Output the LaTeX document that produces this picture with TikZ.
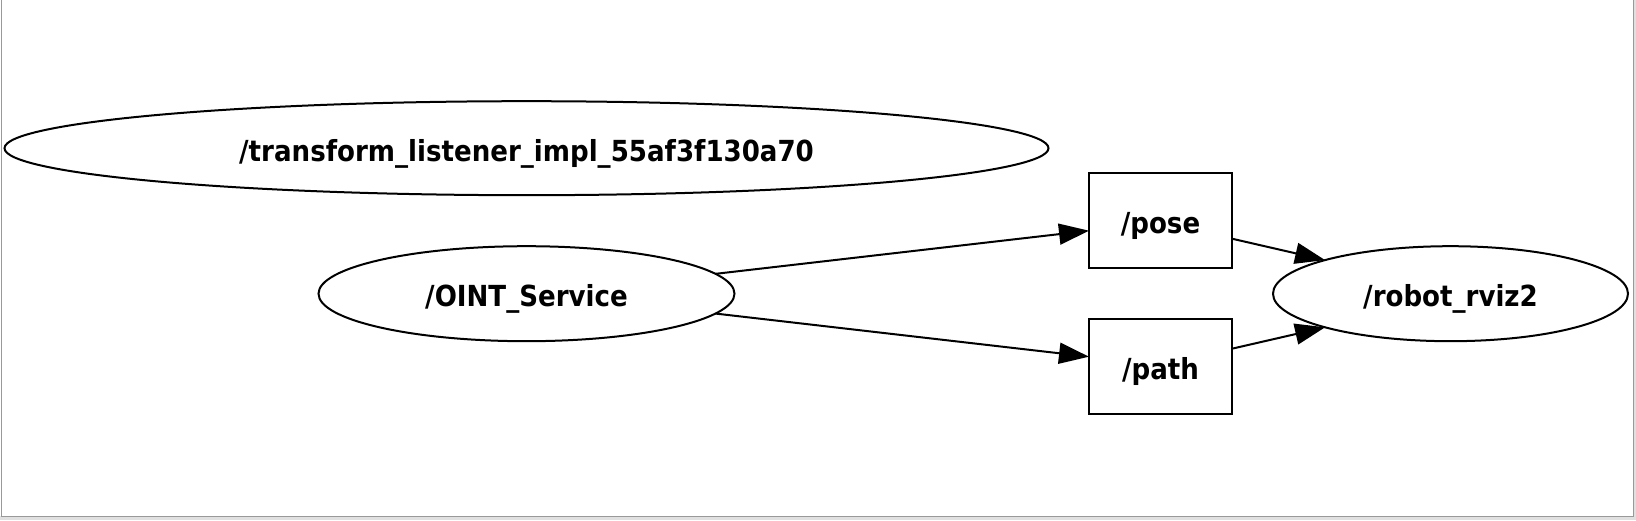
\documentclass[tikz,border=0pt]{standalone}
\usepackage{fontspec}
\newfontfamily\labfont{DejaVu Sans Condensed}
\usetikzlibrary{shapes.geometric,arrows.meta}
\begin{document}
\begin{tikzpicture}[x=1pt,y=1pt,
  every node/.style={font=\labfont\bfseries\fontsize{29}{34}\selectfont, line width=2pt, draw=black, inner sep=0pt, outer sep=0pt, text height=26pt, text depth=0pt},
  nodeell/.style={ellipse},
  topicbox/.style={rectangle},
  edge/.style={line width=2pt, -{Triangle[length=30pt,width=21pt]}}
]
\useasboundingbox (0,0) rectangle (1636,520);
\fill[black!12] (0,0) rectangle (1636,520);
\fill[white] (0,4) rectangle (1633,520);
\draw[black!40, line width=1pt] (1,520) -- (1,4) -- (1633,4) -- (1633,520);

\node[nodeell, minimum width=1044pt, minimum height=94pt] (tl) at (526.5,371.8) {/transform\_listener\_impl\_55af3f130a70};
\node[nodeell, minimum width=416pt, minimum height=95pt] (oint) at (526.5,226.3) {/OINT\_Service};
\node[topicbox, minimum width=143pt, minimum height=95pt] (pose) at (1160.5,299.3) {/pose};
\node[topicbox, minimum width=143pt, minimum height=95pt] (path) at (1160.5,153.3) {/path};
\node[nodeell, minimum width=355pt, minimum height=95pt] (robot) at (1450.5,226.3) {/robot\_rviz2};

\draw[edge] (oint.6.5) -- ([yshift=-10pt]pose.west);
\draw[edge] (oint.-6.5) -- ([yshift=10pt]path.west);
\draw[edge] ([yshift=-18pt]pose.east) -- (robot.165);
\draw[edge] ([yshift=18pt]path.east) -- (robot.195);
\end{tikzpicture}
\end{document}
